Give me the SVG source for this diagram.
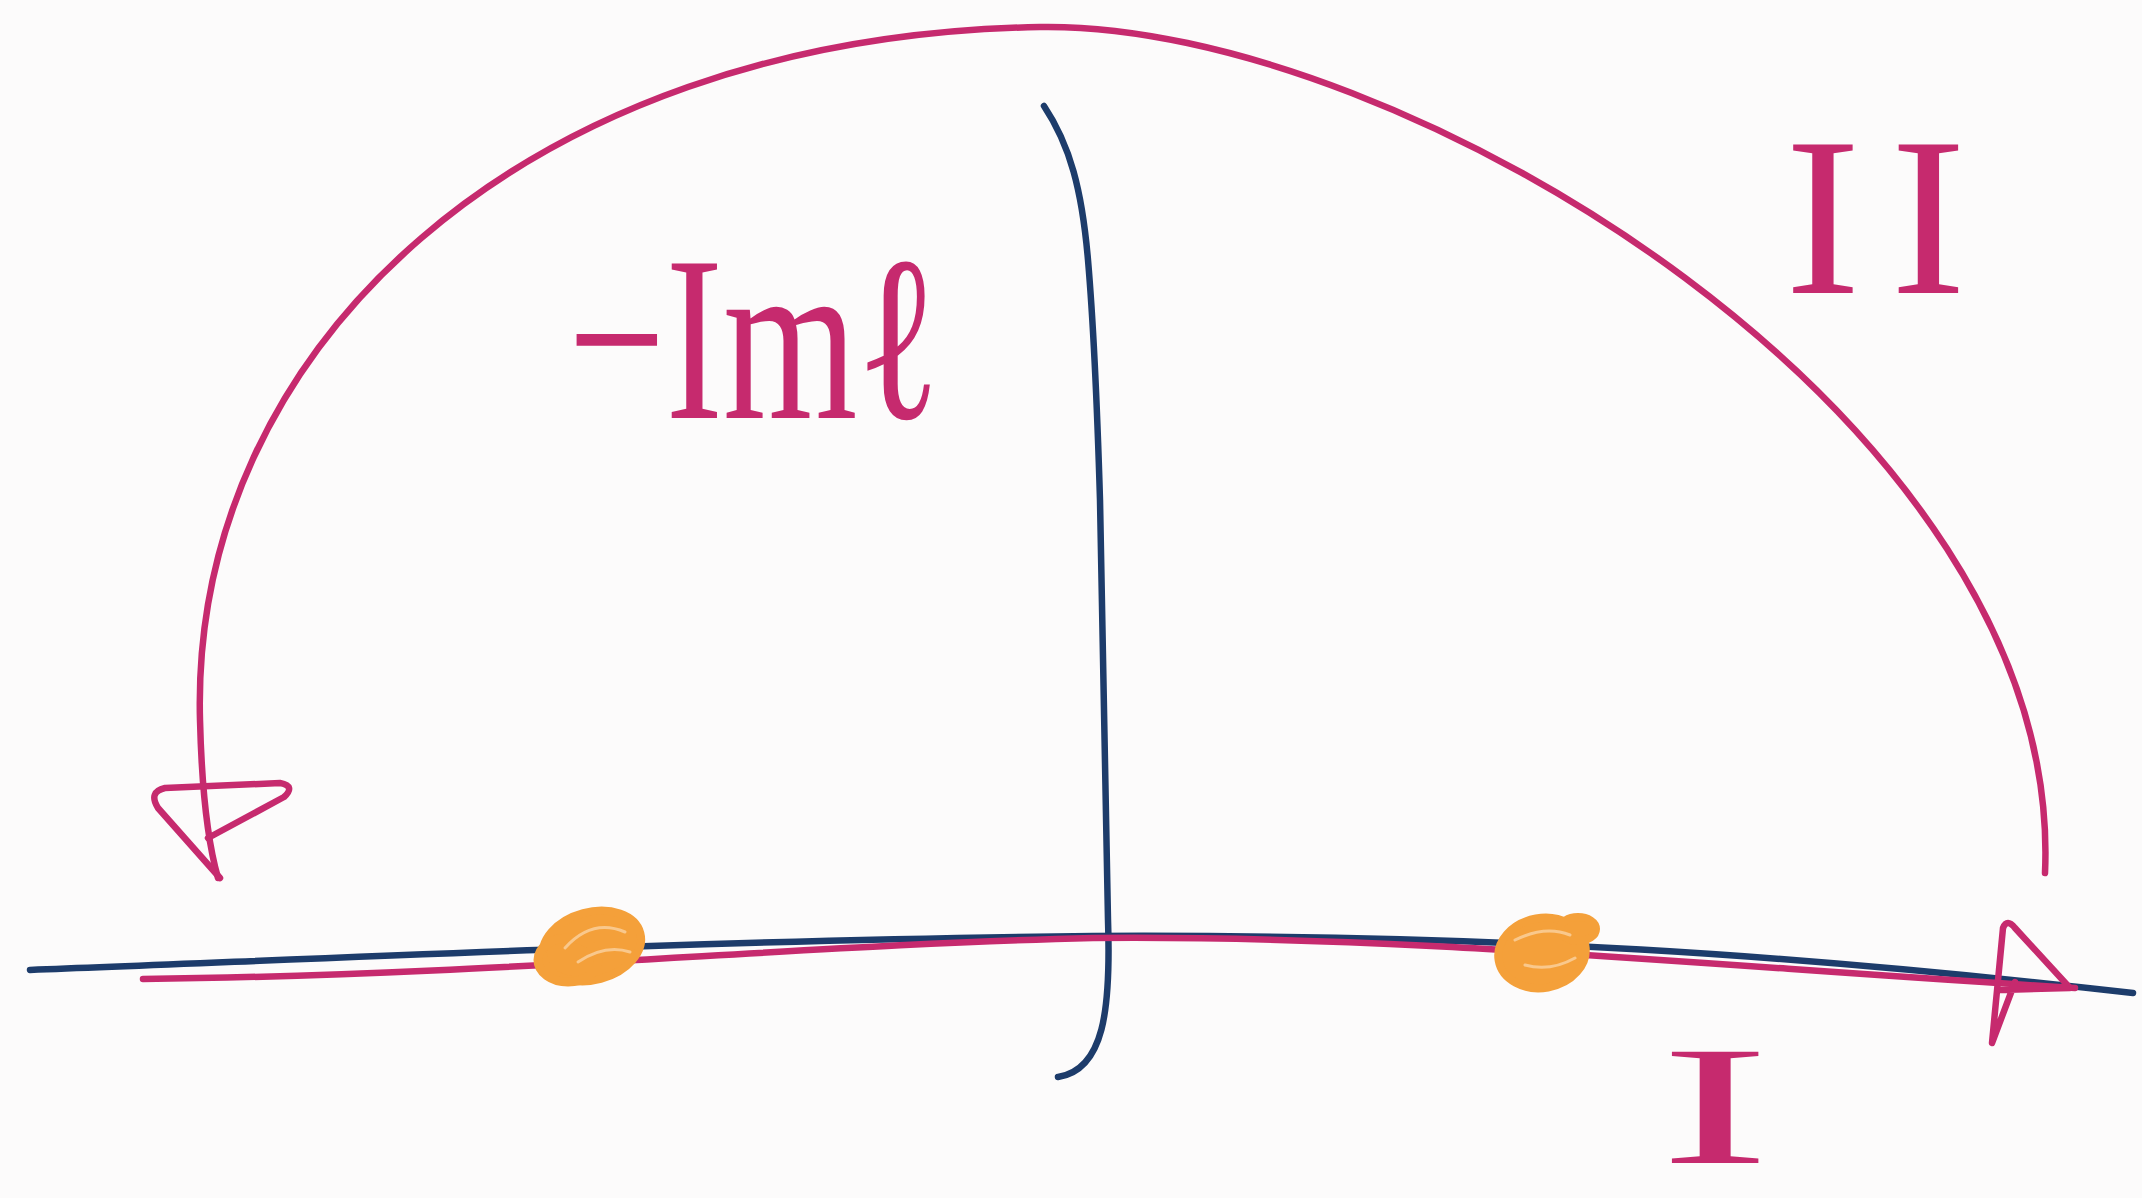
<svg xmlns="http://www.w3.org/2000/svg" width="2142" height="1198" viewBox="0 0 2142 1198">
<style>
.pink{fill:none;stroke:#C62A6E;stroke-width:6.5;stroke-linecap:round;stroke-linejoin:round}
.blue{fill:none;stroke:#1D3C6B;stroke-width:6.5;stroke-linecap:round;stroke-linejoin:round}
.blob{fill:#F4A03A;stroke:#F4A03A;stroke-width:8}
.ring{fill:none;stroke:#F4A03A;stroke-width:9;stroke-linecap:round}
.scr{fill:none;stroke:#F9C88C;stroke-width:3;stroke-linecap:round}
.lbl{font-family:"Liberation Serif",serif;fill:#C62A6E}
</style>
<rect width="2142" height="1198" fill="#FCFBFB"/>
<g id="connectors">
<path id="axis-real" class="blue" d="M 30 970 C 300 960 700 940 1093 936 C 1500 934 1800 955 2133 993"/>
<path id="axis-imag" class="blue" d="M 1044 106 C 1070 145 1082 190 1088 260 C 1094 330 1097 400 1100 500 L 1108 920 C 1111 1010 1104 1070 1058 1077"/>
<path id="path-I" class="pink" d="M 143 979 C 500 975 800 945 1093 938 C 1400 935 1700 965 2075 988"/>
<path id="path-arc" class="pink" d="M 2045 873 C 2065 420 1400 21 1040 27 C 520 36 190 350 200 720 C 202 800 210 850 218 878"/>
<path id="arrow-left" class="pink" stroke-width="7" d="M 208 838 L 284 797 Q 296 786 280 783 L 165 788 Q 148 792 158 808 L 220 878"/>
<path id="arrow-right" class="pink" stroke-width="7" d="M 2015 982 L 1992 1043 L 2003 928 Q 2007 918 2015 928 L 2070 988 L 2000 990"/>
</g>
<g id="pole-left">
<ellipse class="blob" cx="592" cy="946" rx="50" ry="34" transform="rotate(-15 592 946)"/>
<ellipse class="ring" cx="568" cy="960" rx="30" ry="22"/>
<path class="scr" d="M 565 948 Q 592 918 625 932 M 578 962 Q 605 944 630 952"/>
</g>
<g id="pole-right">
<ellipse class="blob" cx="1542" cy="953" rx="44" ry="35" transform="rotate(-10 1542 953)"/>
<ellipse class="blob" cx="1578" cy="929" rx="18" ry="12"/>
<path class="scr" d="M 1515 940 Q 1545 925 1570 935 M 1525 965 Q 1550 972 1575 958"/>
</g>
<g id="label-arc-minus"><text class="lbl" x="568" y="418" font-size="235" textLength="372" lengthAdjust="spacingAndGlyphs">−Imℓ</text></g>
<g id="label-II"><text class="lbl" x="1785" y="293" font-size="227" letter-spacing="30">II</text></g>
<g id="label-I"><text class="lbl" x="1660" y="1163" font-size="170" textLength="110" lengthAdjust="spacingAndGlyphs">I</text></g>
</svg>
